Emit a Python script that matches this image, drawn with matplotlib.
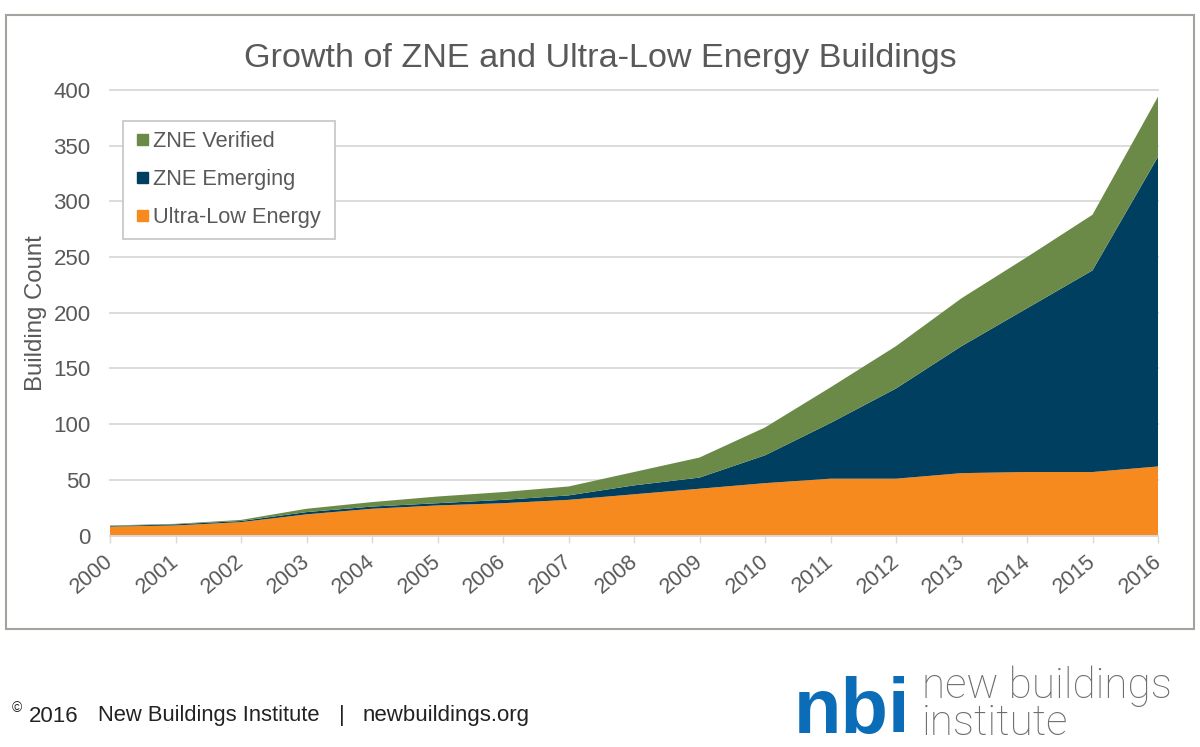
#!/usr/bin/env python

from matplotlib import pyplot as plt
from matplotlib.patches import Patch, Rectangle
from matplotlib.legend_handler import HandlerPatch
from matplotlib.transforms import ScaledTranslation

W, H = 1200, 747

years = list(range(2000, 2017))
ultra_low = [8, 9, 12, 19, 24, 27, 29, 32, 37, 42, 47, 51, 51, 56, 57, 57, 62]
zne_emerging = [0.5, 1, 1, 2, 2, 2, 3, 4, 8, 10, 25, 50, 81, 114, 147, 181, 278]
zne_verified = [0.5, 0.5, 1, 3, 4, 6, 7, 8, 12, 18, 25, 32, 38, 43, 46, 50, 54]
y_ticks = [0, 50, 100, 150, 200, 250, 300, 350, 400]

ORANGE = '#f78a1f'
NAVY = '#003f5f'
GREEN = '#6b8a47'
TEXT = '#595959'
GRID = '#d9d9d9'
BLUE = '#0b6db7'
DARK = '#222222'

plt.rcParams['font.family'] = ['Liberation Sans', 'DejaVu Sans']


def small_square(legend, orig_handle, xdescent, ydescent, width, height, fontsize):
    # Legend swatch is a small square, inset from the frame
    side = 11 * 0.72
    return Rectangle((width - side - xdescent, (height - side) / 2 - ydescent), side, side)


fig = plt.figure(figsize=(W / 100, H / 100), dpi=100, facecolor='white')

# Outer frame around the chart
frame = Rectangle((6 / W, 1 - 629 / H), 1188 / W, 614 / H, transform=fig.transFigure,
                  facecolor='none', edgecolor='#a3a39d', linewidth=1.5)
fig.add_artist(frame)

# Axes placed on the plot area of the reference
ax = fig.add_axes([110 / W, 1 - 535.5 / H, 1048 / W, 445.5 / H])
ax.stackplot(years, ultra_low, zne_emerging, zne_verified,
             colors=[ORANGE, NAVY, GREEN], linewidth=0, zorder=3)
ax.set_xlim(2000, 2016)
ax.set_ylim(0, 400)
ax.set_yticks(y_ticks)
ax.set_xticks(years)
ax.grid(True, axis='y', color=GRID, linewidth=1.3, zorder=0, clip_on=False)
ax.set_axisbelow(True)
for spine in ['top', 'right', 'left']:
    ax.spines[spine].set_visible(False)
ax.spines['bottom'].set_color(GRID)
ax.spines['bottom'].set_linewidth(1.3)
ax.spines['bottom'].set_zorder(4)
ax.tick_params(axis='y', length=0, pad=14, labelsize=16, labelcolor=TEXT)
ax.tick_params(axis='x', length=5, width=1, color=GRID, pad=6, labelsize=15.5, labelcolor=TEXT)
shift = ScaledTranslation(-6 / 100, 0, fig.dpi_scale_trans)
for label in ax.get_xticklabels():
    label.set_rotation(40)
    label.set_ha('right')
    label.set_rotation_mode('anchor')
    label.set_transform(label.get_transform() + shift)
ax.set_ylabel('Building Count', fontsize=17.3, color=TEXT)
ax.yaxis.set_label_coords(47 / W, 1 - 313 / H, transform=fig.transFigure)

fig.text(600 / W, 1 - 59 / H, 'Growth of ZNE and Ultra-Low Energy Buildings',
         fontsize=24.6, color=TEXT, ha='center', va='center')

handles = [Patch(color=GREEN, label='ZNE Verified'),
           Patch(color=NAVY, label='ZNE Emerging'),
           Patch(color=ORANGE, label='Ultra-Low Energy')]
legend = ax.legend(handles=handles, loc='upper left', mode='expand',
                   bbox_to_anchor=(123 / W, 1 - 236 / H, 212 / W, 115 / H),
                   bbox_transform=fig.transFigure,
                   handler_map={Patch: HandlerPatch(patch_func=small_square)},
                   fontsize=15.7, labelcolor=TEXT, fancybox=False, framealpha=1,
                   edgecolor='#c9c9c9', borderaxespad=0, borderpad=0.46,
                   handlelength=0.69, handleheight=0.72, handletextpad=0.23,
                   labelspacing=0.79)
legend.get_frame().set_linewidth(1.3)
legend.set_zorder(5)

# Footer
fig.text(12 / W, 1 - 708 / H, '©', fontsize=10, color=DARK, ha='left', va='center')
fig.text(29 / W, 1 - 716 / H, '2016', fontsize=16, color=DARK, ha='left', va='center')
fig.text(98 / W, 1 - 716 / H, 'New Buildings Institute', fontsize=15.8, color=DARK,
         ha='left', va='center')
fig.text(342 / W, 1 - 716 / H, '|', fontsize=16, color=DARK, ha='center', va='center')
fig.text(363 / W, 1 - 716 / H, 'newbuildings.org', fontsize=16, color=DARK,
         ha='left', va='center')

# Logo
fig.text(794 / W, 1 - 733 / H, 'nbi', fontsize=56, fontweight='bold', color=BLUE,
         ha='left', va='baseline')
fig.text(922 / W, 1 - 735 / H, 'new buildings\ninstitute', fontsize=30.5, color='#6d6e70',
         family='Roboto', fontweight='light', ha='left', va='baseline', linespacing=0.87)

fig.savefig('out.png', dpi=100)
